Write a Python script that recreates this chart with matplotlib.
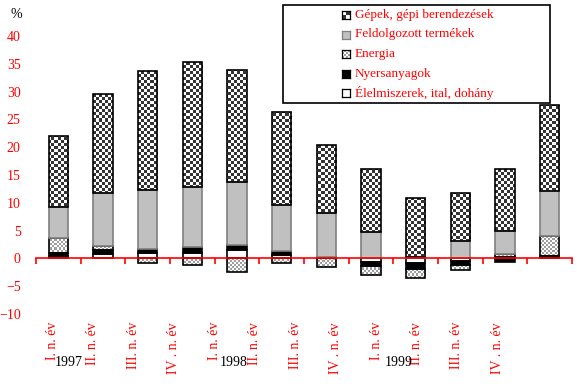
import numpy as np
import matplotlib.pyplot as plt
from matplotlib.patches import Rectangle

# Adatok (%-os hozzájárulás)
negyedevek = ["I. n. év", "II. n. év", "III. n. év", "IV . n. év"] * 3
evek = ["1997", "1998", "1999"]
sorozatok = ["Élelmiszerek, ital, dohány", "Nyersanyagok", "Energia",
             "Feldolgozott termékek", "Gépek, gépi berendezések"]

elelm   = [0.45, 0.83, 0.95, 1.0, 1.55, 0.65, 0.1, -0.6, -0.9, -0.4, 0.2, 0.15]
nyers   = [0.45, 0.67, 0.78, 1.04, 0.85, 0.72, 0.1, -0.7, -0.95, -0.85, -0.65, 0.3]
energia = [2.8, 0.77, -0.9, -1.26, -2.5, -0.9, -1.6, -1.74, -1.74, -0.9, 0.55, 3.5]
feld    = [5.6, 9.5, 10.5, 10.8, 11.4, 8.3, 7.9, 4.8, 0.25, 3.2, 4.15, 8.1]
gepek   = [12.7, 17.85, 21.4, 22.4, 20.1, 16.6, 12.35, 11.3, 10.6, 8.6, 11.2, 15.5]

plt.rcParams['font.family'] = ['Liberation Serif', 'DejaVu Serif']
plt.rcParams['font.size'] = 9

W, H = 577, 392
fig = plt.figure(figsize=(W / 100, H / 100), dpi=100)
ax = fig.add_axes([36/W, 78/H, 536/W, 278/H])
xlim = (-0.5, 11.5)
ylim = (-10, 40)

x = np.arange(len(gepek))
w = 0.43


def checker(ny, nx, cell, c1, c2):
    r, c = np.indices((ny, nx))
    m = ((r // cell + c // cell) % 2)[..., None]
    return np.where(m == 1, np.array(c1)[None, None, :],
                    np.array(c2)[None, None, :])


# pixelpontos mintak (1 kep pixel = 1 kepernyo pixel)
nagy = checker(278, 536, 3, (0.2, 0.2, 0.2), (1, 1, 1))
kicsi = checker(278, 536, 2, (0.62, 0.62, 0.62), (1, 1, 1))

data = [elelm, nyers, energia, feld, gepek]
styles = [dict(color='white', edgecolor='black', linewidth=1.2),
          dict(color='black', edgecolor='black', linewidth=1.2),
          dict(color='none', edgecolor='black', linewidth=1.2),
          dict(color='#c0c0c0', edgecolor='#808080', linewidth=1.2),
          dict(color='none', edgecolor='black', linewidth=1.2)]
patterns = [None, None, kicsi, None, nagy]

pos = np.zeros(len(x))
neg = np.zeros(len(x))
for vals, st, pat in zip(data, styles, patterns):
    v = np.array(vals)
    bottom = np.where(v >= 0, pos, neg)
    bars = ax.bar(x, v, w, bottom=bottom, zorder=3, **st)
    pos = pos + np.where(v >= 0, v, 0)
    neg = neg + np.where(v < 0, v, 0)
    if pat is not None:
        for b in bars:
            im = ax.imshow(pat, extent=(*xlim, *ylim), aspect='auto',
                           interpolation='nearest', zorder=2, origin='lower')
            im.set_clip_path(b)

ax.set_xlim(*xlim)
ax.set_ylim(*ylim)

# Tengelyek
for s in ['top', 'right', 'left']:
    ax.spines[s].set_visible(False)
ax.spines['bottom'].set_position(('data', 0))
ax.spines['bottom'].set_color('red')
ax.spines['bottom'].set_linewidth(1.2)
ax.spines['bottom'].set_zorder(5)
ax.set_xticks(np.arange(-0.5, 12, 1))
ax.set_xticklabels([])
ax.tick_params(axis='x', colors='red', length=4, width=1.2, direction='out')
ax.set_yticks(np.arange(-10, 41, 5))
ax.tick_params(axis='y', colors='red', length=0, pad=11, labelsize=10)

fig.text(16/W, 1 - 15/H, "%", ha='center', va='center', fontsize=10)

# Negyedéves feliratok
for i, lab in enumerate(negyedevek):
    fig.text((52.5 + 40.45 * i) / W, 1 - 322/H, lab, rotation=90,
             ha='center', va='top', color='red', fontsize=10)
for i, ev in enumerate(evek):
    fig.text((69 + 165 * i) / W, 1 - 362/H, ev, ha='center',
             va='center', fontsize=10)

# Jelmagyarázat
fig.patches.append(Rectangle((283/W, 1 - 103/H), 267/W, 98/H,
                             transform=fig.transFigure, facecolor='white',
                             edgecolor='black', linewidth=1.2, zorder=1))
leg_nevek = list(reversed(sorozatok))
leg_kep = [checker(8, 8, 4, (0.2, 0.2, 0.2), (1, 1, 1)),
           None,
           checker(8, 8, 2, (0.62, 0.62, 0.62), (1, 1, 1)),
           None, None]
leg_szin = [None, '#c0c0c0', None, 'black', 'white']
for i, nev in enumerate(leg_nevek):
    yc = 15 + 19.5 * i
    iax = fig.add_axes([342/W, 1 - (yc + 4)/H, 8/W, 8/H])
    iax.set_zorder(5)
    if leg_kep[i] is not None:
        iax.imshow(leg_kep[i], interpolation='nearest', aspect='auto')
    else:
        iax.set_facecolor(leg_szin[i])
    iax.set_xticks([])
    iax.set_yticks([])
    for s in iax.spines.values():
        s.set_linewidth(0.9)
        s.set_color('#808080' if i == 1 else 'black')
    fig.text(355/W, 1 - yc/H, nev, ha='left', va='center', color='red',
             fontsize=9.5, zorder=3)

plt.savefig("out.png", dpi=100)
